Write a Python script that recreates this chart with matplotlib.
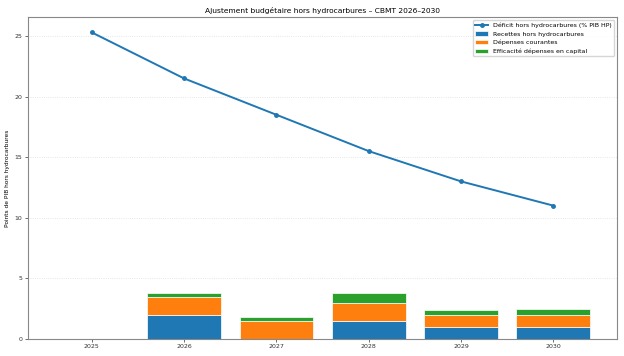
import matplotlib
matplotlib.use("Agg")
import matplotlib.pyplot as plt

# annees et composantes de l'ajustement
annees = [2025, 2026, 2027, 2028, 2029, 2030]
recettes = [0, 2.0, 0, 1.5, 1.0, 1.0]
depenses = [0, 1.5, 1.5, 1.5, 1.0, 1.0]
capital = [0, 0.3, 0.3, 0.8, 0.4, 0.5]
deficit = [25.3, 21.5, 18.5, 15.5, 13.0, 11.0]

plt.rcParams['font.size'] = 4.5

fig, ax = plt.subplots(figsize=(6.24, 3.56), dpi=100)

bas2 = [r + d for r, d in zip(recettes, depenses)]
ax.bar(annees, recettes, width=0.8, color="#1f77b4", edgecolor="white", linewidth=0.5, label="Recettes hors hydrocarbures")
ax.bar(annees, depenses, width=0.8, bottom=recettes, color="#ff7f0e", edgecolor="white", linewidth=0.5, label="Dépenses courantes")
ax.bar(annees, capital, width=0.8, bottom=bas2, color="#2ca02c", edgecolor="white", linewidth=0.5, label="Efficacité dépenses en capital")

ax.plot(annees, deficit, color="#1f77b4", linewidth=1.4, marker="o", markersize=2.5, label="Déficit hors hydrocarbures (% PIB HP)")

ax.set_ylim(bottom=0)
ax.set_xticks(annees)
ax.set_title("Ajustement budgétaire hors hydrocarbures – CBMT 2026–2030", fontsize=5.4, pad=3)
ax.set_ylabel("Points de PIB hors hydrocarbures", fontsize=4.2, labelpad=3)
ax.grid(axis="y", linestyle=":", alpha=0.4, linewidth=0.6)
ax.set_axisbelow(True)
for s in ax.spines.values():
    s.set_color("#888888")
ax.tick_params(length=2, width=0.5, colors="#333333", pad=2)
ax.legend(loc="upper right", fontsize=4.5)

plt.subplots_adjust(left=0.045, right=0.989, top=0.952, bottom=0.048)
plt.savefig("out.png", dpi=100)
